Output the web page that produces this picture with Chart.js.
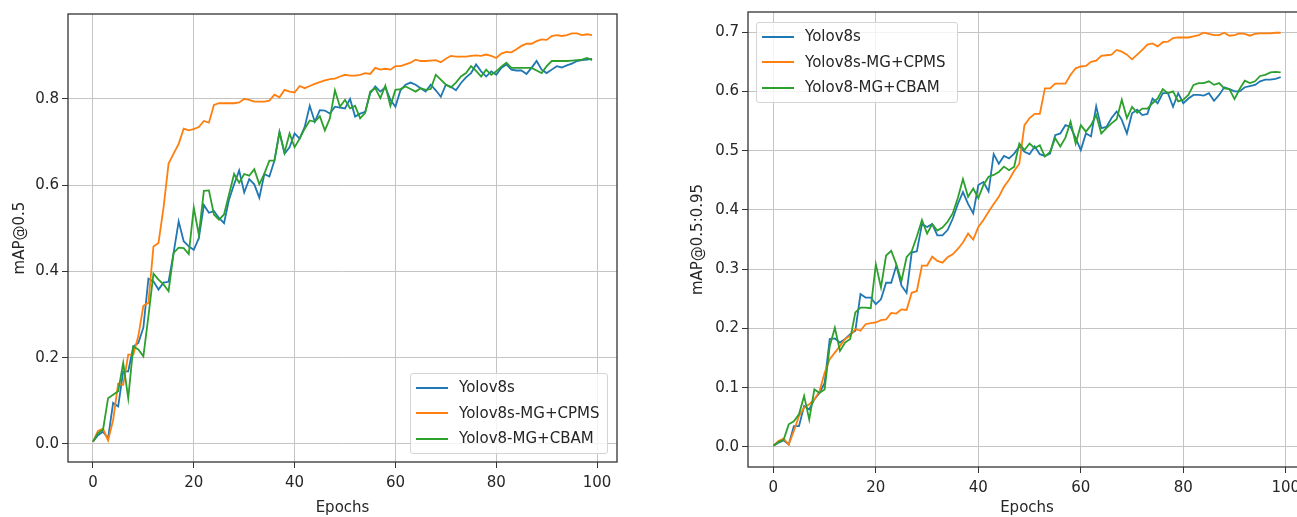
<!DOCTYPE html>
<html>
<head>
<meta charset="utf-8">
<script src="https://cdn.jsdelivr.net/npm/chart.js@4.4.1/dist/chart.umd.min.js"></script>
<style>
  html, body { margin:0; padding:0; background:#fff; overflow:hidden; width:1297px; height:517px; }
  canvas { position:absolute; top:0; }
  #cLeft { left:0; }
  #cRight { left:660px; }
  .legend { position:absolute; box-sizing:border-box; background:rgba(255,255,255,0.8);
            border:1px solid #d4d4d4; border-radius:3px; font:15px 'DejaVu Sans'; color:#262626;
            padding:1px 0 0 5px; }
  .legend div { height:25.5px; line-height:25.5px; white-space:nowrap; }
  .legend span { display:inline-block; width:32px; height:2px; vertical-align:middle; margin-right:11px; }
</style>
</head>
<body>
<canvas id="cLeft" width="640" height="517"></canvas>
<canvas id="cRight" width="660" height="517"></canvas>
<div class="legend" id="legLeft" style="left:410px; top:373px; width:198px; height:81px;"></div>
<div class="legend" id="legRight" style="left:756px; top:22px; width:202px; height:81px;"></div>
<script>
// Data (100 epochs)
const seriesNames = ['Yolov8s', 'Yolov8s-MG+CPMS', 'Yolov8-MG+CBAM'];
const seriesColors = ['#1f77b4', '#ff7f0e', '#2ca02c'];
const epochs = Array.from({length: 100}, (_, i) => i);
const xTicks = [0, 20, 40, 60, 80, 100];
const yTicksLeft = [0.0, 0.2, 0.4, 0.6, 0.8];
const yTicksRight = [0.0, 0.1, 0.2, 0.3, 0.4, 0.5, 0.6, 0.7];

// mAP@0.5
const map50_v8s = [
  0.005, 0.02, 0.028, 0.013, 0.095, 0.087, 0.168, 0.168, 0.226, 0.234,
  0.27, 0.383, 0.377, 0.358, 0.374, 0.376, 0.443, 0.516, 0.47, 0.458,
  0.45, 0.477, 0.554, 0.536, 0.54, 0.524, 0.512, 0.567, 0.602, 0.634,
  0.583, 0.614, 0.602, 0.571, 0.626, 0.62, 0.657, 0.723, 0.673, 0.688,
  0.72, 0.708, 0.735, 0.784, 0.747, 0.774, 0.773, 0.766, 0.782, 0.78,
  0.778, 0.8, 0.759, 0.766, 0.77, 0.813, 0.829, 0.817, 0.827, 0.798,
  0.782, 0.82, 0.833, 0.838, 0.833, 0.825, 0.817, 0.833, 0.82, 0.805,
  0.833, 0.828, 0.82, 0.837, 0.85, 0.86, 0.88, 0.864, 0.852, 0.864,
  0.856, 0.872, 0.88, 0.868, 0.866, 0.866, 0.858, 0.872, 0.888, 0.868,
  0.86, 0.868, 0.876, 0.873, 0.878, 0.882, 0.888, 0.89, 0.891, 0.893
];
const map50_cpms = [
  0.005, 0.03, 0.035, 0.008, 0.055, 0.14, 0.137, 0.207, 0.207, 0.25,
  0.32, 0.327, 0.458, 0.466, 0.548, 0.65, 0.673, 0.696, 0.731, 0.727,
  0.73, 0.735, 0.749, 0.745, 0.786, 0.79, 0.79, 0.79, 0.79, 0.792,
  0.8, 0.798, 0.794, 0.794, 0.794, 0.796, 0.81, 0.804, 0.821, 0.817,
  0.815, 0.83, 0.825, 0.83, 0.835, 0.839, 0.843, 0.846, 0.847, 0.852,
  0.856, 0.854, 0.854, 0.856, 0.86, 0.858, 0.872, 0.868, 0.87, 0.868,
  0.876, 0.876, 0.88, 0.884, 0.891, 0.888, 0.888, 0.889, 0.89, 0.885,
  0.893, 0.9, 0.898, 0.898, 0.898, 0.9, 0.901, 0.9, 0.903, 0.9,
  0.895, 0.905, 0.909, 0.908, 0.915, 0.923, 0.928, 0.928, 0.934, 0.938,
  0.937, 0.946, 0.948, 0.946, 0.948, 0.952, 0.952, 0.948, 0.95, 0.948
];
const map50_cbam = [
  0.005, 0.025, 0.033, 0.106, 0.114, 0.122, 0.188, 0.106, 0.226, 0.219,
  0.203, 0.296, 0.395, 0.381, 0.37, 0.354, 0.443, 0.455, 0.454, 0.44,
  0.548, 0.485, 0.587, 0.588, 0.532, 0.52, 0.532, 0.579, 0.626, 0.606,
  0.626, 0.622, 0.637, 0.602, 0.627, 0.657, 0.657, 0.723, 0.676, 0.72,
  0.688, 0.708, 0.731, 0.75, 0.747, 0.76, 0.727, 0.755, 0.82, 0.782,
  0.798, 0.778, 0.784, 0.755, 0.768, 0.817, 0.825, 0.802, 0.831, 0.784,
  0.821, 0.823, 0.829, 0.823, 0.817, 0.825, 0.821, 0.823, 0.856, 0.845,
  0.833, 0.827, 0.838, 0.852, 0.86, 0.876, 0.865, 0.852, 0.868, 0.856,
  0.864, 0.875, 0.884, 0.872, 0.872, 0.872, 0.872, 0.872, 0.866, 0.86,
  0.876, 0.888, 0.888, 0.888, 0.888, 0.889, 0.89, 0.891, 0.895, 0.89
];

// mAP@0.5:0.95
const map5095_v8s = [
  0.002, 0.007, 0.011, 0.004, 0.035, 0.035, 0.069, 0.063, 0.08, 0.091,
  0.108, 0.182, 0.183, 0.176, 0.182, 0.19, 0.196, 0.258, 0.252, 0.252,
  0.241, 0.249, 0.277, 0.277, 0.306, 0.272, 0.26, 0.328, 0.33, 0.376,
  0.371, 0.376, 0.357, 0.357, 0.366, 0.385, 0.41, 0.43, 0.41, 0.394,
  0.442, 0.447, 0.431, 0.494, 0.478, 0.491, 0.487, 0.495, 0.507, 0.498,
  0.494, 0.507, 0.494, 0.491, 0.495, 0.526, 0.529, 0.543, 0.54, 0.521,
  0.501, 0.529, 0.524, 0.575, 0.538, 0.54, 0.555, 0.566, 0.552, 0.529,
  0.563, 0.569, 0.56, 0.562, 0.588, 0.58, 0.597, 0.597, 0.574, 0.597,
  0.58, 0.588, 0.594, 0.594, 0.593, 0.597, 0.584, 0.594, 0.607, 0.604,
  0.6, 0.6, 0.607, 0.609, 0.611, 0.617, 0.62, 0.62, 0.621, 0.624
];
const map5095_cpms = [
  0.002, 0.01, 0.014, 0.004, 0.027, 0.052, 0.066, 0.072, 0.08, 0.094,
  0.125, 0.148, 0.159, 0.17, 0.182, 0.188, 0.199, 0.196, 0.207, 0.209,
  0.21, 0.214, 0.215, 0.226, 0.225, 0.232, 0.231, 0.26, 0.263, 0.306,
  0.306, 0.321, 0.314, 0.311, 0.32, 0.325, 0.334, 0.345, 0.36, 0.35,
  0.371, 0.383, 0.397, 0.41, 0.422, 0.439, 0.451, 0.466, 0.478, 0.543,
  0.555, 0.562, 0.562, 0.605, 0.605, 0.613, 0.613, 0.613, 0.628, 0.639,
  0.642, 0.643, 0.65, 0.652, 0.66, 0.661, 0.662, 0.67, 0.667, 0.662,
  0.654, 0.662, 0.67, 0.679, 0.681, 0.676, 0.683, 0.684, 0.69, 0.691,
  0.691, 0.691, 0.693, 0.695, 0.699, 0.697, 0.695, 0.695, 0.699, 0.694,
  0.695, 0.698, 0.697, 0.694, 0.697, 0.698, 0.698, 0.698, 0.699, 0.699
];
const map5095_cbam = [
  0.002, 0.008, 0.012, 0.038, 0.043, 0.055, 0.086, 0.046, 0.097, 0.091,
  0.097, 0.17, 0.201, 0.162, 0.176, 0.182, 0.227, 0.235, 0.235, 0.234,
  0.308, 0.269, 0.323, 0.331, 0.308, 0.28, 0.32, 0.33, 0.355, 0.383,
  0.36, 0.376, 0.365, 0.37, 0.38, 0.394, 0.42, 0.452, 0.422, 0.436,
  0.42, 0.442, 0.456, 0.459, 0.464, 0.473, 0.467, 0.473, 0.512, 0.501,
  0.512, 0.504, 0.509, 0.49, 0.498, 0.521, 0.507, 0.522, 0.549, 0.512,
  0.543, 0.532, 0.543, 0.56, 0.529, 0.538, 0.546, 0.553, 0.586, 0.555,
  0.574, 0.564, 0.571, 0.571, 0.58, 0.588, 0.604, 0.597, 0.6, 0.583,
  0.586, 0.594, 0.611, 0.614, 0.614, 0.617, 0.611, 0.614, 0.605, 0.604,
  0.587, 0.604, 0.618, 0.614, 0.617, 0.626, 0.628, 0.632, 0.633, 0.632
];

Chart.defaults.font.family = "'DejaVu Sans', sans-serif";
Chart.defaults.font.size = 15;
Chart.defaults.color = '#262626';

// matplotlib-like box around the axes
const framePlugin = {
  id: 'frame',
  afterDatasetsDraw(chart) {
    const a = chart.chartArea, ctx = chart.ctx;
    ctx.save();
    ctx.strokeStyle = '#333';
    ctx.lineWidth = 1.3;
    ctx.strokeRect(a.left, a.top, a.right - a.left, a.bottom - a.top);
    ctx.restore();
  }
};

function makeChart(id, seriesList, cfg) {
  const datasets = seriesList.map((vals, i) => ({
    label: seriesNames[i],
    data: epochs.map((e, j) => ({x: e, y: vals[j]})),
    borderColor: seriesColors[i],
    backgroundColor: seriesColors[i],
    borderWidth: 1.8,
    pointRadius: 0,
    tension: 0,
    order: 3 - i
  }));
  return new Chart(document.getElementById(id), {
    type: 'line',
    data: {datasets},
    plugins: [framePlugin],
    options: {
      responsive: false,
      animation: false,
      devicePixelRatio: 1,
      layout: {padding: {top: cfg.padTop, right: cfg.padRight, left: 0, bottom: 0}},
      plugins: {legend: {display: false}, tooltip: {enabled: false}},
      scales: {
        x: {
          type: 'linear', min: -4.95, max: 103.95,
          afterBuildTicks: s => { s.ticks = xTicks.map(v => ({value: v})); },
          afterFit: s => { s.height = cfg.xHeight; },
          ticks: {padding: 6, callback: v => String(v)},
          grid: {color: '#c4c4c4', lineWidth: 1, tickLength: 6, tickColor: '#333'},
          border: {display: false},
          title: {display: true, text: 'Epochs', padding: {top: cfg.xTitlePad, bottom: 0}}
        },
        y: {
          type: 'linear', min: cfg.yMin, max: cfg.yMax,
          afterBuildTicks: s => { s.ticks = cfg.yTicks.map(v => ({value: v})); },
          afterFit: s => { s.width = cfg.yWidth; },
          ticks: {padding: 3, callback: v => v.toFixed(1)},
          grid: {color: '#c4c4c4', lineWidth: 1, tickLength: 6, tickColor: '#333'},
          border: {display: false},
          title: {display: true, text: cfg.yTitle, padding: {top: cfg.yTitlePad, bottom: 0}}
        }
      }
    }
  });
}

const chartLeft = makeChart('cLeft', [map50_v8s, map50_cpms, map50_cbam], {
  padTop: 14, padRight: 23, xHeight: 55, yWidth: 68,
  yMin: -0.042, yMax: 0.997, yTicks: yTicksLeft,
  yTitle: 'mAP@0.5', yTitlePad: 11, xTitlePad: 3
});
const chartRight = makeChart('cRight', [map5095_v8s, map5095_cpms, map5095_cbam], {
  padTop: 12, padRight: 14, xHeight: 50, yWidth: 88,
  yMin: -0.034, yMax: 0.734, yTicks: yTicksRight,
  yTitle: 'mAP@0.5:0.95', yTitlePad: 29, xTitlePad: 0
});

// legends as real HTML text
function buildLegend(elId) {
  const el = document.getElementById(elId);
  seriesNames.forEach((name, i) => {
    const row = document.createElement('div');
    const sw = document.createElement('span');
    sw.style.background = seriesColors[i];
    row.appendChild(sw);
    row.appendChild(document.createTextNode(name));
    el.appendChild(row);
  });
}
buildLegend('legLeft');
buildLegend('legRight');
</script>
</body>
</html>
